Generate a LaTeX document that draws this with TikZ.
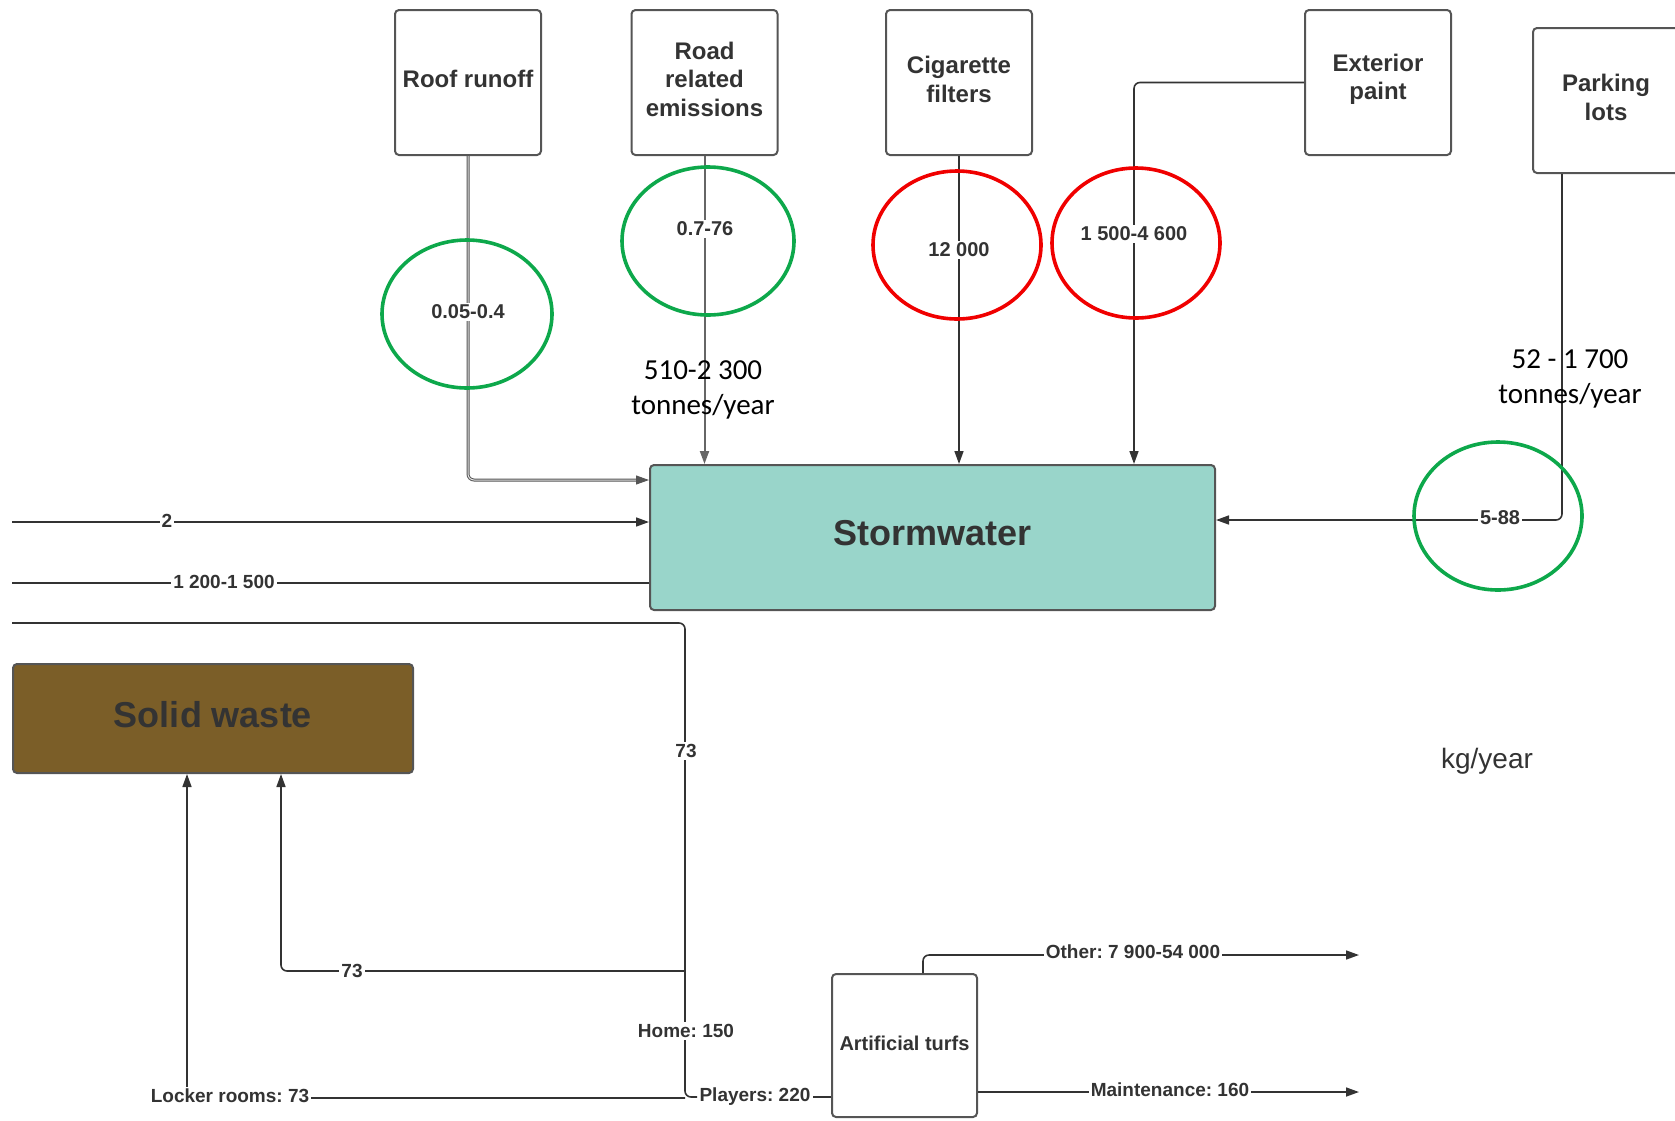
\documentclass[tikz,border=0pt]{standalone}
\usepackage{fontspec}
\setmainfont{Liberation Sans}
\newfontfamily\calibri{Carlito}
\usetikzlibrary{arrows.meta,shapes.geometric}
\definecolor{txt}{HTML}{333333}
\definecolor{bord}{HTML}{555555}
\definecolor{lnc}{HTML}{333333}
\definecolor{stormfill}{HTML}{99D5CA}
\definecolor{wastefill}{HTML}{7B5E28}
\definecolor{grn}{HTML}{0DA84B}
\definecolor{rd}{HTML}{F00000}
\frenchspacing
\begin{document}
\frenchspacing
\begin{tikzpicture}[x=0.5pt,y=-0.5pt,
  boxtxt/.style={align=center, text=txt, inner sep=0pt},
  srcbox/.style={draw=bord, line width=1pt, rounded corners=2pt, minimum width=73pt, minimum height=72.5pt, inner sep=2pt,
     label={[boxtxt, yshift=1.6pt, font=\bfseries\fontsize{12}{14.4}\selectfont]center:#1}},
  bigbox/.style={draw=bord, line width=1pt, rounded corners=2pt},
  conline/.style={draw=lnc, line width=0.8pt, rounded corners=3pt},
  arr/.style={conline, -{Triangle[length=6.5pt,width=4.5pt]}},
  lbl/.style={fill=white, inner sep=1pt, text=txt, font=\bfseries\fontsize{9.5}{11}\selectfont},
  elbl/.style={fill=white, inner sep=1pt, text=txt, font=\bfseries\fontsize{10}{12}\selectfont},
  ring/.style={ellipse, draw, line width=1.8pt, inner sep=0pt},
  note/.style={align=center, text=black, font=\calibri\fontsize{14.5}{17.5}\selectfont}]
\useasboundingbox (0,0) rectangle (1675,1120);

% source boxes
\node[srcbox={Roof runoff}] (roof) at (468,82.5) {};
\node[srcbox={Road\\related\\emissions}] (road) at (704.5,82.5) {};
\node[srcbox={Cigarette\\filters}] (cig) at (959,82.5) {};
\node[srcbox={Exterior\\paint}] (ext) at (1378,82.5) {};
\node[srcbox={Parking\\lots}] (park) at (1606,100.5) {};

% main boxes
\node[bigbox, fill=stormfill, minimum width=282.5pt, minimum height=72.5pt,
  label={[boxtxt, yshift=2pt, font=\bfseries\fontsize{18}{21}\selectfont]center:Stormwater}] (storm) at (932.5,537.5) {};
\node[bigbox, fill=wastefill, minimum width=200pt, minimum height=54.5pt,
  label={[boxtxt, yshift=2pt, font=\bfseries\fontsize{18}{21}\selectfont]center:Solid waste}] (waste) at (213,718.5) {};
\node[bigbox, minimum width=72.5pt, minimum height=71.5pt,
  label={[boxtxt, yshift=1pt, font=\bfseries\fontsize{10}{12}\selectfont]center:Artificial turfs}] (turf) at (904.5,1045.5) {};

% free ends
\coordinate (inTwo) at (12,522);
\coordinate (outA) at (12,583);
\coordinate (outHome) at (12,623);
\coordinate (homeTop) at (685,623);
\coordinate (jWaste) at (685,971);
\coordinate (jLocker) at (685,1098);
\coordinate (endOther) at (1359,955);
\coordinate (endMaint) at (1359,1092);

% connectors into stormwater
\draw[arr, draw=bord, double=white!75!gray, double distance=0.5pt, line width=0.5pt] (roof.south) |- (storm.west |- 0,480);
\draw[arr, draw=gray!80!black, line width=1pt] (road.south) -- (road.south |- storm.north);
\draw[arr] (cig.south) -- (cig.south |- storm.north);
\draw[arr] (ext.west) -| (1134,0 |- storm.north);
\draw[arr] (park.south -| 1562,0) |- (storm.east |- 0,520);
\draw[arr] (inTwo) -- (storm.west |- inTwo);
\draw[conline] (storm.west |- outA) -- (outA);

% players / home / waste
\node[lbl] (pl) at (755,1097) {Players: 220};
\draw[conline] (turf.west |- pl) -- (pl.east);
\draw[conline] (pl.west) -| (homeTop) -- (outHome);
\draw[arr] (jWaste) -| (waste.south -| 281,0);
\draw[arr] (jLocker) -| (waste.south -| 187,0);

% turf outputs
\draw[arr] (turf.north -| 923,0) |- (endOther);
\draw[arr] (turf.east |- endMaint) -- (endMaint);

% ellipses
\node[ring, draw=grn, minimum width=85pt, minimum height=74pt] (e1) at (467,314) {};
\node[ring, draw=grn, minimum width=86pt, minimum height=74pt] (e2) at (708,241) {};
\node[ring, draw=rd, minimum width=84pt, minimum height=74pt] (e3) at (957,245) {};
\node[ring, draw=rd, minimum width=84pt, minimum height=75pt] (e4) at (1136,243) {};
\node[ring, draw=grn, minimum width=84pt, minimum height=74pt] (e5) at (1498,516) {};

% labels on lines
\node[elbl] at (468,312) {0.05-0.4};
\node[elbl] at (705,229) {0.7-76};
\node[elbl] at (959,250) {12 000};
\node[elbl] at (1134,234) {1 500-4 600};
\node[elbl] at (1500,518) {5-88};
\node[lbl] at (167,521) {2};
\node[lbl] at (224,582) {1 200-1 500};
\node[lbl] at (686,751) {73};
\node[lbl] at (352,971) {73};
\node[lbl] at (686,1031) {Home: 150};
\node[lbl] at (230,1096) {Locker rooms: 73};
\node[lbl] at (1133,952) {Other: 7 900-54 000};
\node[lbl] at (1170,1090) {Maintenance: 160};

% notes
\node[note] at (703,390) {510-2 300\\tonnes/year};
\node[note] at (1570,379) {52 - 1 700\\tonnes/year};
\node[text=txt, font=\fontsize{14}{17}\selectfont] at (1487,761) {kg/year};
\end{tikzpicture}
\end{document}
